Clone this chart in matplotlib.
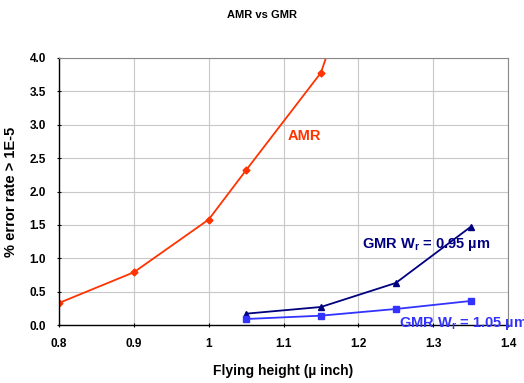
import matplotlib
matplotlib.use('Agg')
import matplotlib.pyplot as plt

plt.rcParams['font.family'] = ['Liberation Sans', 'DejaVu Sans']
plt.rcParams['font.weight'] = 'bold'
plt.rcParams['axes.labelweight'] = 'bold'
plt.rcParams['axes.titleweight'] = 'bold'

amr_x = [0.8, 0.9, 1.0, 1.05, 1.15, 1.25]
amr_y = [0.33, 0.79, 1.58, 2.32, 3.78, 7.1]
gmr95_x = [1.05, 1.15, 1.25, 1.35]
gmr95_y = [0.17, 0.27, 0.63, 1.47]
gmr105_x = [1.05, 1.15, 1.25, 1.35]
gmr105_y = [0.09, 0.14, 0.24, 0.36]
xticks = [0.8, 0.9, 1.0, 1.1, 1.2, 1.3, 1.4]
xticklabels = ['0.8', '0.9', '1', '1.1', '1.2', '1.3', '1.4']
yticks = [0.0, 0.5, 1.0, 1.5, 2.0, 2.5, 3.0, 3.5, 4.0]

fig = plt.figure(figsize=(5.24, 3.83), dpi=100)
ax = fig.add_axes([0.1126, 0.1514, 0.857, 0.6972])

red = '#ff3300'
navy = '#000080'
blue = '#3333ff'

ax.plot(amr_x, amr_y, '-', color=red, lw=1.3, marker='D', ms=3.5)
ax.plot(gmr95_x, gmr95_y, '-', color=navy, lw=1.3, marker='^', ms=5)
ax.plot(gmr105_x, gmr105_y, '-', color=blue, lw=1.3, marker='s', ms=4.5)

ax.set_xlim(0.8, 1.4)
ax.set_ylim(0, 4.0)
ax.set_xticks(xticks)
ax.set_xticklabels(xticklabels, fontweight='bold')
ax.set_yticks(yticks)
ax.set_yticklabels(['%.1f' % v for v in yticks], fontweight='bold')
ax.tick_params(labelsize=8.5, length=3, direction='inout', pad=8)
ax.grid(True, color='#c8c8c8', lw=0.8)
ax.set_axisbelow(True)
for s in ['top', 'right']:
    ax.spines[s].set_color('#888888')
    ax.spines[s].set_linewidth(0.8)
for s in ['left', 'bottom']:
    ax.spines[s].set_color('black')
    ax.spines[s].set_linewidth(1)

ax.text(1.105, 2.83, 'AMR', color=red, fontsize=10.5, va='center', fontweight='bold')
ax.text(1.205, 1.2, r'GMR W$_\mathregular{r}$ = 0.95 µm', color=navy,
        fontsize=10.5, va='center', fontweight='bold')
ax.text(1.254, 0.03, r'GMR W$_\mathregular{r}$ = 1.05 µm', color=blue,
        fontsize=10.5, va='center', clip_on=False, fontweight='bold')

ax.set_xlabel('Flying height (µ inch)', fontsize=10, labelpad=10, fontweight='bold')
ax.set_ylabel('% error rate > 1E-5', fontsize=10.5, labelpad=8, fontweight='bold')
fig.text(0.5, 0.96, 'AMR vs GMR', ha='center', va='center', fontsize=8,
         fontweight='bold')

fig.savefig('out.png', dpi=100)
